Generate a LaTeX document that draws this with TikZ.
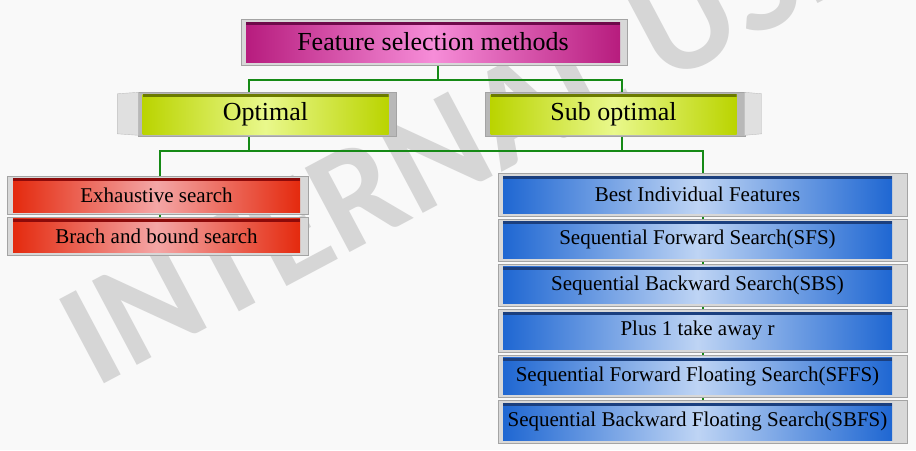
\documentclass[tikz,border=0pt]{standalone}
\usepackage{fontspec}
\setmainfont{Liberation Serif}
\newfontfamily\stampfont{Carlito}
\usepackage{tikz}
\usetikzlibrary{positioning, backgrounds}

\definecolor{backdrop}{HTML}{F9F9F9}
\definecolor{stampgray}{HTML}{D6D6D6}
\definecolor{linkgreen}{HTML}{168A16}
\definecolor{framegray}{HTML}{D8D8D8}
\definecolor{framedark}{HTML}{B8B8B8}
\definecolor{frameline}{HTML}{A4A4A4}
\definecolor{rootedge}{HTML}{B71C7E}
\definecolor{rootmid}{HTML}{F68DD8}
\definecolor{roottop}{HTML}{6E0A4A}
\definecolor{kindedge}{HTML}{BAD400}
\definecolor{kindmid}{HTML}{E9F88C}
\definecolor{kindtop}{HTML}{6B7A00}
\definecolor{optedge}{HTML}{E42A0E}
\definecolor{optmid}{HTML}{F4A6A6}
\definecolor{opttop}{HTML}{8C0A0A}
\definecolor{subedge}{HTML}{1F67D2}
\definecolor{submid}{HTML}{BED4F4}
\definecolor{subtop}{HTML}{1B3F7E}

\begin{document}
\begin{tikzpicture}[
    x=1pt, y=-1pt,
    node distance=8pt,
    topstrip/.style={path picture={\fill[#1] (path picture bounding box.north west) rectangle ([yshift=-3pt]path picture bounding box.north east);}},
    box/.style={rectangle, inner sep=0pt, text=black},
    root/.style={box, left color=rootedge, right color=rootedge, middle color=rootmid, topstrip=roottop, minimum width=374pt, minimum height=40pt, font=\fontsize{26}{30}\selectfont},
    kind/.style={box, left color=kindedge, right color=kindedge, middle color=kindmid, topstrip=kindtop, minimum width=246pt, minimum height=40pt, font=\fontsize{26}{30}\selectfont},
    optimal/.style={box, left color=optedge, right color=optedge, middle color=optmid, topstrip=opttop, minimum width=287pt, minimum height=34pt, font=\fontsize{21}{25}\selectfont},
    suboptimal/.style={box, left color=subedge, right color=subedge, middle color=submid, topstrip=subtop, minimum width=389pt, minimum height=37pt, font=\fontsize{21}{25}\selectfont},
    panelframe/.style={draw=frameline, fill=#1},
    bevel/.style={draw=frameline!70, fill=framegray!80},
    link/.style={draw=linkgreen, line width=2pt},
    stamp/.style={text=stampgray, font=\stampfont\bfseries\fontsize{147}{147}\selectfont}
]

\useasboundingbox (0,0) rectangle (916,450);

\node (root) [root] at (433,42) {Feature selection methods};
\node (opt) [kind] at (265.5,114) {Optimal};
\node (sub) [kind] at (613.5,114) {Sub optimal};
\node (exh) [optimal] at (156.5,195) {Exhaustive search};
\node (bnb) [optimal, below=6.5pt of exh] {Brach and bound search};
\node (bif) [suboptimal] at (697.5,194.5) {Best Individual Features};
\node (sfs) [suboptimal, below=of bif] {Sequential Forward Search(SFS)};
\node (sbs) [suboptimal, below=of sfs] {Sequential Backward Search(SBS)};
\node (plr) [suboptimal, below=of sbs] {Plus 1 take away r};
\node (sffs) [suboptimal, below=of plr] {Sequential Forward Floating Search(SFFS)};
\node (sbfs) [suboptimal, below=of sffs] {Sequential Backward Floating Search(SBFS)};

\begin{scope}[on background layer]
\fill[backdrop] (0,0) rectangle (916,450);
\begin{scope}
\clip (0,0) rectangle (916,450);
\node (mark) [stamp, rotate=28, anchor=base west] at (92,390) {INTERNAL USE};
\end{scope}

\draw[link] ([xshift=5pt]root.south) -- ++(0,18) -| ([xshift=-16.5pt]opt.north);
\draw[link] ([xshift=5pt]root.south) -- ++(0,18) -| ([xshift=8.5pt]sub.north);
\draw[link] ([xshift=-16.5pt]opt.south) -- ++(0,16.5) -| ([xshift=3pt]exh.north);
\draw[link] ([xshift=-16.5pt]opt.south) -- ++(0,16.5) -| ([xshift=5.5pt]bif.north);
\draw[link] ([xshift=8.5pt]sub.south) -- ++(0,16.5);
\draw[link] ([xshift=3pt]exh.north) -- ([xshift=3pt]bnb.north);
\draw[link] ([xshift=5.5pt]bif.north) -- ([xshift=5.5pt]sbfs.north);

\foreach \n/\l/\r/\v/\c in {root/5pt/7pt/2.5pt/framegray, opt/4pt/7pt/1.5pt/framedark, sub/5pt/8pt/1.5pt/framedark,
    exh/6pt/8pt/2pt/framegray, bnb/6pt/8pt/2pt/framegray, bif/5pt/15pt/2.5pt/framegray, sfs/5pt/15pt/2.5pt/framegray,
    sbs/5pt/15pt/2.5pt/framegray, plr/5pt/15pt/2.5pt/framegray, sffs/5pt/15pt/2.5pt/framegray, sbfs/5pt/15pt/2.5pt/framegray}
  \draw[panelframe=\c] ([shift={(-\l,\v)}]\n.north west) rectangle ([shift={(\r,-\v)}]\n.south east);

\draw[bevel] ([shift={(-4pt,1.5pt)}]opt.north west) -- ++(-21pt,-1.5pt) -- ++(0pt,-40pt) -- ++(21pt,-1.5pt) -- cycle;
\draw[bevel] ([shift={(8pt,1.5pt)}]sub.north east) -- ++(17pt,-1.5pt) -- ++(0pt,-40pt) -- ++(-17pt,-1.5pt) -- cycle;
\end{scope}

\end{tikzpicture}
\end{document}
